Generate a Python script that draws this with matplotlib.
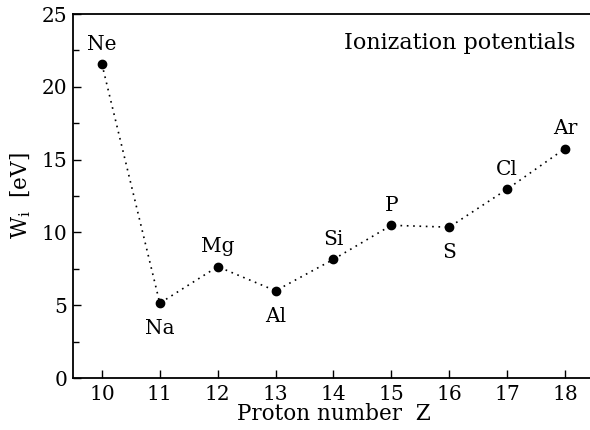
import matplotlib.pyplot as plt
from matplotlib.ticker import MultipleLocator

# Primeras energias de ionizacion, periodo 3 (+ Ne)
z = [10, 11, 12, 13, 14, 15, 16, 17, 18]
elementos = ['Ne', 'Na', 'Mg', 'Al', 'Si', 'P', 'S', 'Cl', 'Ar']
energia = [21.56, 5.14, 7.65, 5.99, 8.15, 10.49, 10.36, 12.97, 15.76]
# etiqueta encima (1) o debajo (-1) del punto
posicion = [1, -1, 1, -1, 1, 1, -1, 1, 1]

plt.rcParams['font.family'] = ['DejaVu Serif']
plt.rcParams['mathtext.fontset'] = 'dejavuserif'

fig = plt.figure(figsize=(5.9, 4.3), dpi=100)
ax = fig.add_axes([0.1237, 0.1209, 0.883, 0.8465])

ax.plot(z, energia, linestyle=(0, (1, 2.8)), color='black', linewidth=1.2,
        marker='o', markersize=6)

for x, y, nombre, p in zip(z, energia, elementos, posicion):
    off = 10.5 if p > 0 else -22.5
    ax.annotate(nombre, (x, y), xytext=(0, off), textcoords='offset points',
                ha='center', va='baseline', fontsize=14.5)

ax.text(0.965, 0.92, 'Ionization potentials', transform=ax.transAxes,
        ha='right', va='center', fontsize=16)

ax.set_xlim(9.5, 18.5)
ax.set_ylim(0, 25)
ax.xaxis.set_major_locator(MultipleLocator(1))
ax.yaxis.set_major_locator(MultipleLocator(5))
ax.yaxis.set_minor_locator(MultipleLocator(2.5))
ax.tick_params(which='major', direction='in', length=6, width=1, labelsize=14.5, pad=5)
ax.tick_params(which='minor', direction='in', length=4, width=1)
ax.tick_params(axis='y', pad=4)

for lado in ['left', 'bottom', 'top']:
    ax.spines[lado].set_linewidth(1.3)
ax.spines['right'].set_visible(False)

ax.set_xlabel('Proton number  Z', fontsize=15.5, labelpad=-1)
ax.set_ylabel(r'W$_\mathrm{i}$  [eV]', fontsize=15.5, labelpad=6)

fig.savefig('out.png', dpi=100)
